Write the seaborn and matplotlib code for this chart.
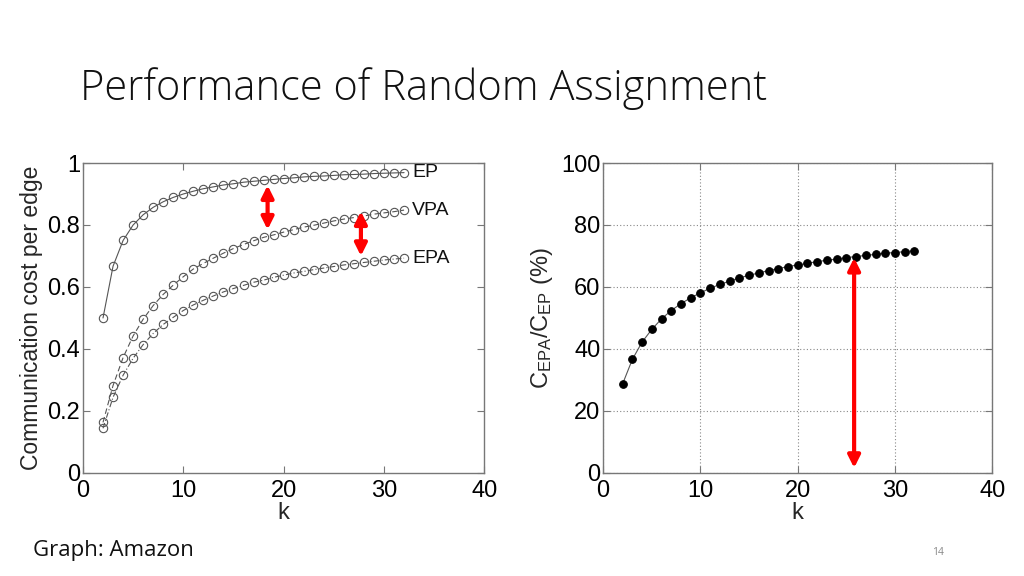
import matplotlib
matplotlib.use("Agg")
import matplotlib.pyplot as plt
import seaborn as sns
import pandas as pd
from matplotlib.patches import FancyArrowPatch

k = list(range(2, 33))
ep = [0.500, 0.667, 0.750, 0.800, 0.833, 0.857, 0.875, 0.889, 0.900, 0.909, 0.917,
      0.923, 0.929, 0.933, 0.938, 0.941, 0.944, 0.947, 0.950, 0.952, 0.955, 0.957,
      0.958, 0.960, 0.962, 0.963, 0.964, 0.966, 0.967, 0.968, 0.969]
vpa = [0.163, 0.282, 0.372, 0.442, 0.496, 0.540, 0.576, 0.606, 0.633, 0.658, 0.676,
       0.693, 0.709, 0.724, 0.737, 0.749, 0.760, 0.768, 0.777, 0.785, 0.793, 0.799,
       0.806, 0.813, 0.819, 0.824, 0.829, 0.835, 0.839, 0.843, 0.848]
epa = [0.144, 0.244, 0.315, 0.370, 0.414, 0.450, 0.479, 0.502, 0.524, 0.542, 0.557,
       0.571, 0.584, 0.595, 0.605, 0.615, 0.622, 0.631, 0.638, 0.645, 0.650, 0.656,
       0.661, 0.666, 0.671, 0.675, 0.679, 0.683, 0.687, 0.690, 0.693]
ratio = [28.7, 36.6, 42.2, 46.3, 49.7, 52.4, 54.6, 56.5, 58.1, 59.6, 60.8, 61.9,
         62.9, 63.8, 64.5, 65.3, 65.9, 66.6, 67.1, 67.6, 68.2, 68.6, 69.0, 69.5,
         69.8, 70.2, 70.5, 70.9, 71.1, 71.4, 71.7]

series_names = ["EP", "VPA", "EPA"]
left_arrows = [(18.4, 0.928, 0.785), (27.7, 0.844, 0.700)]
right_arrow = (25.8, 69.4, 1.6)

sns.set_theme(style="white")
plt.rcParams["font.family"] = ["Liberation Sans", "DejaVu Sans"]
plt.rcParams["mathtext.fontset"] = "custom"
plt.rcParams["mathtext.rm"] = "Liberation Sans"

fig = plt.figure(figsize=(10.24, 5.76), dpi=100)
fig.patch.set_facecolor("white")

axL = fig.add_axes([0.081, 0.179, 0.392, 0.538])
axR = fig.add_axes([0.589, 0.179, 0.380, 0.538])

df = pd.DataFrame({"k": k * 3,
                   "val": ep + vpa + epa,
                   "series": ["EP"] * len(k) + ["VPA"] * len(k) + ["EPA"] * len(k)})

styles = {"EP": "-", "VPA": (0, (5, 3)), "EPA": (0, (5, 2, 1, 2))}
for name in series_names:
    sub = df[df["series"] == name]
    sns.lineplot(data=sub, x="k", y="val", ax=axL, color="#555555", lw=0.8,
                 linestyle=styles[name], marker="o", markersize=6,
                 markerfacecolor="none", markeredgecolor="#555555",
                 markeredgewidth=0.8, legend=False)
    axL.text(sub["k"].iloc[-1] + 0.8, sub["val"].iloc[-1], name, fontsize=14,
             va="center", ha="left", color="#111111")

for (x, y0, y1) in left_arrows:
    axL.add_patch(FancyArrowPatch((x, y0), (x, y1), arrowstyle="<|-|>",
                                  mutation_scale=18, color="#ff0000", lw=3,
                                  shrinkA=0, shrinkB=0, zorder=5))

axL.set_xlim(0, 40)
axL.set_ylim(0, 1)
axL.set_xticks([0, 10, 20, 30, 40])
axL.set_yticks([0, 0.2, 0.4, 0.6, 0.8, 1])
axL.set_yticklabels(["0", "0.2", "0.4", "0.6", "0.8", "1"])
axL.set_xlabel("k", fontsize=17, labelpad=0)
axL.set_ylabel("Communication cost per edge", fontsize=16.5, labelpad=3)

dfr = pd.DataFrame({"k": k, "ratio": ratio})
sns.lineplot(data=dfr, x="k", y="ratio", ax=axR, color="#555555", lw=0.8,
             marker="o", markersize=5.5, markerfacecolor="black",
             markeredgecolor="black", legend=False)
x, y0, y1 = right_arrow
axR.add_patch(FancyArrowPatch((x, y0), (x, y1), arrowstyle="<|-|>",
                              mutation_scale=18, color="#ff0000", lw=3,
                              shrinkA=0, shrinkB=0, zorder=5))
axR.set_xlim(0, 40)
axR.set_ylim(0, 100)
axR.set_xticks([0, 10, 20, 30, 40])
axR.set_yticks([0, 20, 40, 60, 80, 100])
axR.grid(True, linestyle=(0, (1, 2)), color="#888888", lw=0.8)
axR.set_xlabel("k", fontsize=17, labelpad=0)
axR.set_ylabel(r"$\mathregular{C_{EPA}/C_{EP}}$ (%)", fontsize=17, labelpad=4)

for ax in (axL, axR):
    ax.tick_params(direction="in", length=5, width=0.8, labelsize=17,
                   top=True, right=True, bottom=True, left=True, colors="#777777",
                   labelcolor="black")
    ax.tick_params(axis="x", pad=5)
    ax.tick_params(axis="y", pad=2)
    for s in ax.spines.values():
        s.set_color("#777777")
        s.set_linewidth(1.0)

fig.text(0.078, 0.826, "Performance of Random Assignment", fontsize=30,
         family=["Open Sans", "DejaVu Sans"], fontweight="light", color="#111111",
         va="baseline")
fig.text(0.032, 0.035, "Graph: Amazon", fontsize=16,
         family=["Open Sans", "DejaVu Sans"], color="#111111", va="baseline")
fig.text(0.910, 0.037, "14", fontsize=7.5,
         family=["Open Sans", "DejaVu Sans"], color="#888888", va="baseline")

fig.savefig("out.png", dpi=100, facecolor="white")
